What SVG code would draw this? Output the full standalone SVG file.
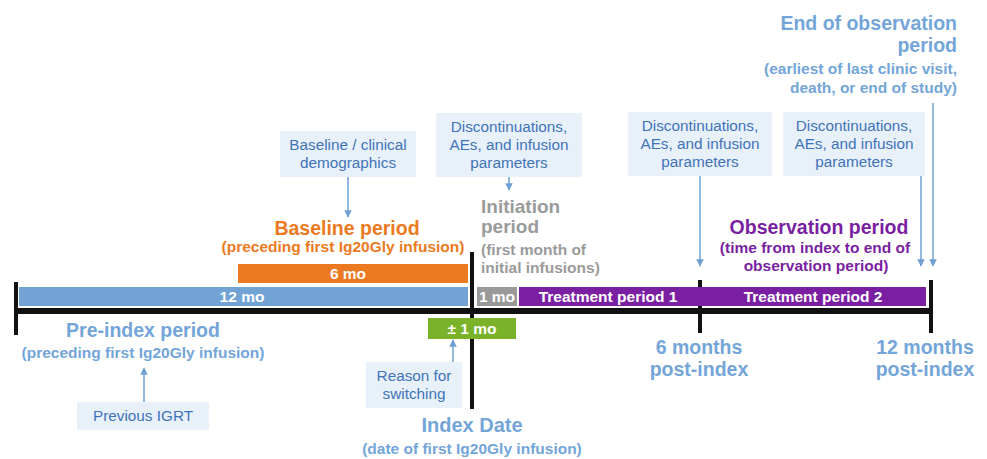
<svg xmlns="http://www.w3.org/2000/svg" width="987" height="459" viewBox="0 0 987 459">
<defs>
<marker id="ah" viewBox="0 0 10 10" refX="9" refY="5" markerWidth="5" markerHeight="5" orient="auto"><path d="M0,0 L10,5 L0,10 z" fill="#6fa0d3"/></marker>
<style>
text{font-family:"Liberation Sans",Arial,sans-serif}
.b{font-weight:bold}
.s{font-size:15.5px}
.lb{fill:#73a5d8}
.or{fill:#ec7a22}
.pu{fill:#7a1fa2}
.gr{fill:#9a9a9a}
.wt{fill:#fff;font-weight:bold;font-size:15.5px}
.box{fill:#e8f0fa}
.bt{fill:#3f74b8;font-size:15.3px}
.tick{stroke:#111;stroke-width:4}
.conn{stroke:#6fa0d3;stroke-width:1.5;fill:none;marker-end:url(#ah)}
.mid{text-anchor:middle}
.end{text-anchor:end}
</style>
</defs>
<rect width="987" height="459" fill="#fff"/>

<g id="timeline">
<line x1="15" y1="311" x2="933" y2="311" stroke="#111" stroke-width="6"/>
<line class="tick" x1="16" y1="282" x2="16" y2="335" stroke-width="3"/>
<line class="tick" x1="472" y1="252" x2="472" y2="409"/>
<line class="tick" x1="700" y1="280" x2="700" y2="333"/>
<line class="tick" x1="931" y1="280" x2="931" y2="333"/>
</g>

<g id="bar-12mo"><rect x="19" y="287" width="449" height="19" fill="#72a3d4"/><text class="wt mid" x="242" y="302">12 mo</text></g>
<g id="bar-6mo"><rect x="238" y="264" width="230" height="19" fill="#ec7a22"/><text class="wt mid" x="348" y="279">6 mo</text></g>
<g id="bar-1mo"><rect x="477" y="287" width="40" height="19" fill="#9a9a9a"/><text class="wt mid" x="497" y="302">1 mo</text></g>
<g id="bar-tp1"><rect x="519" y="287" width="181" height="19" fill="#7a1fa2"/><text class="wt mid" x="608" y="302">Treatment period 1</text></g>
<g id="bar-tp2"><rect x="700" y="287" width="226" height="19" fill="#7a1fa2"/><text class="wt mid" x="813" y="302">Treatment period 2</text></g>
<g id="bar-pm1"><rect x="428" y="318" width="88" height="21" fill="#7ab32a"/><text class="wt mid" x="472" y="334">± 1 mo</text></g>

<g id="pre-index-label">
<text class="b lb mid" x="143" y="337" font-size="19.5">Pre-index period</text>
<text class="b lb mid s" x="143" y="358">(preceding first Ig20Gly infusion)</text>
</g>
<g id="previous-igrt"><rect class="box" x="77" y="402" width="132" height="28"/><text class="bt mid" x="143" y="421">Previous IGRT</text></g>
<g id="reason"><rect class="box" x="366" y="362" width="96" height="46"/><text class="bt mid" x="414" y="381">Reason for</text><text class="bt mid" x="414" y="399">switching</text></g>
<g id="index-date-label">
<text class="b lb mid" x="472" y="432" font-size="20">Index Date</text>
<text class="b lb mid s" x="472" y="454">(date of first Ig20Gly infusion)</text>
</g>
<g id="baseline-demo"><rect class="box" x="280" y="131" width="136" height="46"/><text class="bt mid" x="348" y="150">Baseline / clinical</text><text class="bt mid" x="348" y="168">demographics</text></g>
<g id="disc1"><rect class="box" x="436" y="113" width="146" height="64"/><text class="bt mid" x="509" y="132">Discontinuations,</text><text class="bt mid" x="509" y="150">AEs, and infusion</text><text class="bt mid" x="509" y="168">parameters</text></g>
<g id="disc2"><rect class="box" x="628" y="112" width="144" height="64"/><text class="bt mid" x="700" y="131">Discontinuations,</text><text class="bt mid" x="700" y="149">AEs, and infusion</text><text class="bt mid" x="700" y="167">parameters</text></g>
<g id="disc3"><rect class="box" x="783" y="112" width="142" height="64"/><text class="bt mid" x="854" y="131">Discontinuations,</text><text class="bt mid" x="854" y="149">AEs, and infusion</text><text class="bt mid" x="854" y="167">parameters</text></g>

<g id="baseline-label">
<text class="b or mid" x="347" y="235" font-size="19.5">Baseline period</text>
<text class="b or mid s" x="343" y="252">(preceding first Ig20Gly infusion)</text>
</g>
<g id="initiation-label">
<text class="b gr" x="481" y="213" font-size="19">Initiation</text>
<text class="b gr" x="481" y="233" font-size="19">period</text>
<text class="b gr s" x="481" y="255">(first month of</text>
<text class="b gr s" x="481" y="273">initial infusions)</text>
</g>
<g id="observation-label">
<text class="b pu mid" x="819" y="234" font-size="19.5">Observation period</text>
<text class="b pu mid s" x="815" y="253">(time from index to end of</text>
<text class="b pu mid s" x="816" y="271">observation period)</text>
</g>
<g id="end-obs-label">
<text class="b lb end" x="957" y="30" font-size="19.5">End of observation</text>
<text class="b lb end" x="957" y="52" font-size="19.5">period</text>
<text class="b lb end s" x="957" y="74">(earliest of last clinic visit,</text>
<text class="b lb end s" x="957" y="93">death, or end of study)</text>
</g>
<g id="six-months-label">
<text class="b lb mid" x="699" y="354" font-size="19.5">6 months</text>
<text class="b lb mid" x="699" y="376" font-size="19.5">post-index</text>
</g>
<g id="twelve-months-label">
<text class="b lb mid" x="925" y="354" font-size="19.5">12 months</text>
<text class="b lb mid" x="925" y="376" font-size="19.5">post-index</text>
</g>

<g id="connectors">
<line class="conn" x1="144" y1="402" x2="144" y2="368"/>
<line class="conn" x1="453" y1="362" x2="453" y2="340"/>
<line class="conn" x1="348" y1="177" x2="348" y2="217"/>
<line class="conn" x1="509" y1="177" x2="509" y2="190"/>
<line class="conn" x1="700" y1="176" x2="700" y2="266"/>
<line class="conn" x1="921" y1="176" x2="921" y2="266"/>
<line class="conn" x1="933" y1="103" x2="933" y2="266"/>
</g>
</svg>
